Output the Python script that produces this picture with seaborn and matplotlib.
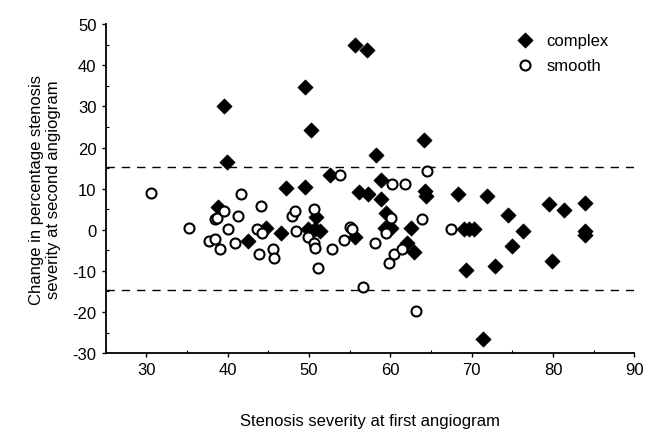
import pandas as pd
import seaborn as sns
import matplotlib.pyplot as plt
from matplotlib.ticker import MultipleLocator

# complex lesions (filled diamonds)
complex_x = [39.5, 39.9, 38.8, 42.5, 44.7, 46.6, 47.2, 49.5, 49.5, 50.3,
             49.9, 50.7, 51.4, 50.9, 52.6, 55.7, 57.1, 55.6, 56.2, 57.2,
             58.2, 58.8, 58.9, 59.5, 59.3, 60.1, 62.0, 62.9, 62.5, 64.1,
             64.3, 64.4, 68.3, 69.0, 69.7, 70.3, 69.3, 71.9, 71.4, 72.9,
             74.5, 75.0, 76.3, 79.5, 79.9, 81.3, 83.9, 83.9, 83.9]
complex_y = [30.2, 16.4, 5.5, -2.7, 0.5, -0.9, 10.2, 10.5, 34.8, 24.2,
             0.3, 0.3, -0.2, 3.0, 13.3, 45.0, 43.7, -1.8, 9.3, 8.6,
             18.1, 12.0, 7.5, 4.0, 0.5, 0.4, -3.3, -5.5, 0.5, 21.8,
             9.4, 8.3, 8.8, 0.3, 0.3, 0.3, -9.7, 8.2, -26.6, -8.9,
             3.6, -3.9, -0.2, 6.3, -7.5, 4.9, 6.6, -0.2, -1.3]

# smooth lesions (open circles)
smooth_x = [30.6, 35.2, 37.7, 38.4, 39.1, 38.5, 38.7, 39.6, 40.0, 40.9,
            41.3, 41.6, 43.6, 44.2, 44.1, 43.8, 45.6, 45.7, 47.9, 48.3,
            48.4, 49.9, 50.6, 50.6, 50.7, 51.1, 52.8, 53.8, 54.3, 55.1,
            55.3, 56.6, 58.1, 59.5, 60.1, 60.2, 61.8, 59.8, 60.4, 61.4,
            63.9, 64.5, 63.2, 67.5]
smooth_y = [9.0, 0.4, -2.8, -2.2, -4.6, 2.5, 2.9, 4.6, 0.2, -3.2,
            3.4, 8.6, 0.3, -0.8, 5.9, -6.0, -4.7, -6.9, 3.4, 4.6,
            -0.3, -1.8, 5.1, -3.1, -4.4, -9.4, -4.6, 13.4, -2.4, 0.6,
            0.3, -14.0, -3.2, -0.8, 2.8, 11.1, 11.1, -8.2, -6.0, -4.8,
            2.6, 14.4, -19.7, 0.3]

upper_limit = 15.2
lower_limit = -14.6

df_complex = pd.DataFrame({"x": complex_x, "y": complex_y})
df_smooth = pd.DataFrame({"x": smooth_x, "y": smooth_y})

sns.set_style("ticks", rc={"text.color": "black", "axes.labelcolor": "black",
                           "xtick.color": "black", "ytick.color": "black",
                           "axes.edgecolor": "black"})
plt.rcParams['font.family'] = ['Liberation Sans', 'DejaVu Sans']
plt.rcParams['axes.unicode_minus'] = False

fig = plt.figure(figsize=(6.52, 4.35), dpi=100)
ax = fig.add_axes([0.162, 0.186, 0.811, 0.756])

sns.scatterplot(data=df_complex, x="x", y="y", marker="D", s=60, color="black",
                edgecolor="black", linewidth=0.5, label="complex", ax=ax, zorder=3)
sns.scatterplot(data=df_smooth, x="x", y="y", marker="o", s=52, facecolor="white",
                edgecolor="black", linewidth=1.5, label="smooth", ax=ax, zorder=3)

ax.axhline(upper_limit, color="black", lw=1, ls=(0, (6, 5)), zorder=1)
ax.axhline(lower_limit, color="black", lw=1, ls=(0, (6, 5)), zorder=1)

ax.set_xlim(25, 90)
ax.set_ylim(-30, 50)
ax.xaxis.set_major_locator(MultipleLocator(10))
ax.yaxis.set_major_locator(MultipleLocator(10))
ax.xaxis.set_minor_locator(MultipleLocator(5))
ax.yaxis.set_minor_locator(MultipleLocator(5))
ax.set_xticks([30, 40, 50, 60, 70, 80, 90])
ax.tick_params(which="major", length=3, width=1, labelsize=12, direction="out")
ax.tick_params(which="minor", length=2, width=0.8, direction="in")
sns.despine(ax=ax)
ax.spines["left"].set_linewidth(1.3)
ax.spines["bottom"].set_linewidth(1.3)

ax.set_xlabel("Stenosis severity at first angiogram", fontsize=12, labelpad=26)
ax.set_ylabel("Change in percentage stenosis\nseverity at second angiogram",
              fontsize=12, labelpad=8)

ax.legend(loc="upper right", frameon=False, fontsize=12, handletextpad=0.3,
          labelspacing=0.6, bbox_to_anchor=(0.98, 1.02))

fig.savefig("out.png", dpi=100)
